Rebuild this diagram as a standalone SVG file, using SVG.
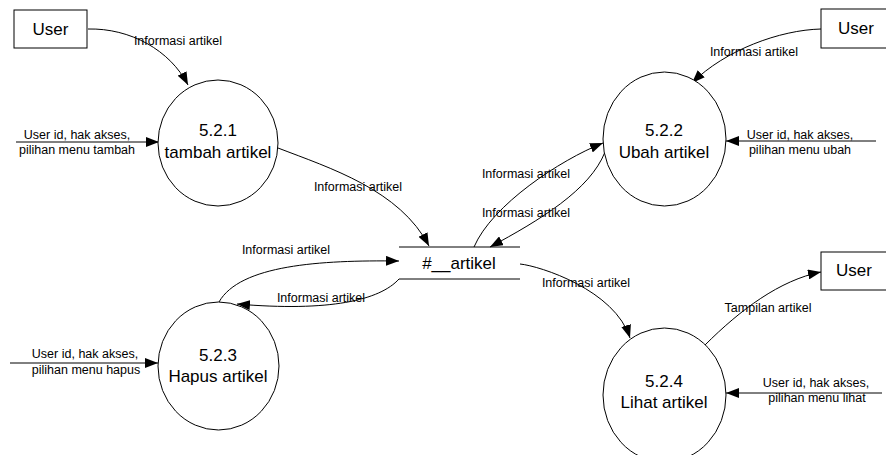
<svg xmlns="http://www.w3.org/2000/svg" width="886" height="455" viewBox="0 0 886 455">
<defs>
<style>
.shape{fill:#fff;stroke:#000;stroke-width:1}
.line{fill:none;stroke:#000;stroke-width:1}
.flow{fill:none;stroke:#000;stroke-width:1;marker-end:url(#arr)}
.node{font-family:"Liberation Sans",Arial,sans-serif;font-size:17px;fill:#000;text-anchor:middle}
.lbl{font-family:"Liberation Sans",Arial,sans-serif;font-size:12.5px;fill:#000;text-anchor:middle}
</style>
<marker id="arr" markerUnits="userSpaceOnUse" markerWidth="14" markerHeight="10" refX="13" refY="5" orient="auto">
<path d="M0,0 L13,5 L0,10 z" fill="#000"/>
</marker>
</defs>
<rect width="886" height="455" fill="#fff"/>

<g id="connectors">
<path class="flow" d="M88,29 C130,28 170,50 188,85"/>
<path class="flow" d="M16,142 L159,142"/>
<path class="flow" d="M821,29 C780,30 725,50 692,83"/>
<path class="flow" d="M876,141 L726,141"/>
<path class="flow" d="M278,148 C330,168 400,190 429,246"/>
<path class="flow" d="M474,247 C492,205 560,160 603,143"/>
<path class="flow" d="M605,152 C590,190 540,220 490,247"/>
<path class="flow" d="M219,302 C240,265 320,260 399,261"/>
<path class="flow" d="M399,279 C380,300 330,312 237,304"/>
<path class="flow" d="M520,264 C540,266 615,290 630,338"/>
<path class="flow" d="M10,363 L158,363"/>
<path class="flow" d="M705,345 C740,310 780,280 821,272"/>
<path class="flow" d="M882,393 L726,393"/>
</g>

<g id="labels">
<text class="lbl" x="178" y="45">Informasi artikel</text>
<text class="lbl" x="77" y="139">User id, hak akses,</text>
<text class="lbl" x="77" y="154">pilihan menu tambah</text>
<text class="lbl" x="754" y="56">Informasi artikel</text>
<text class="lbl" x="800" y="139">User id, hak akses,</text>
<text class="lbl" x="800" y="154">pilihan menu ubah</text>
<text class="lbl" x="358" y="191">Informasi artikel</text>
<text class="lbl" x="526" y="178">Informasi artikel</text>
<text class="lbl" x="526" y="217">Informasi artikel</text>
<text class="lbl" x="286" y="254">Informasi artikel</text>
<text class="lbl" x="321" y="302">Informasi artikel</text>
<text class="lbl" x="586" y="287">Informasi artikel</text>
<text class="lbl" x="85" y="358">User id, hak akses,</text>
<text class="lbl" x="86" y="374">pilihan menu hapus</text>
<text class="lbl" x="768" y="312">Tampilan artikel</text>
<text class="lbl" x="816" y="387">User id, hak akses,</text>
<text class="lbl" x="817" y="402">pilihan menu lihat</text>
</g>

<g id="user1">
<rect class="shape" x="14" y="10" width="73" height="38"/>
<text class="node" x="50.5" y="35">User</text>
</g>
<g id="user2">
<rect class="shape" x="821" y="9" width="73" height="39"/>
<text class="node" x="856" y="34">User</text>
</g>
<g id="user3">
<rect class="shape" x="821" y="252" width="73" height="38"/>
<text class="node" x="854" y="276">User</text>
</g>

<g id="p521">
<ellipse class="shape" cx="218" cy="143" rx="60" ry="63"/>
<text class="node" x="218" y="136">5.2.1</text>
<text class="node" x="218" y="158">tambah artikel</text>
</g>
<g id="p522">
<ellipse class="shape" cx="664.5" cy="139" rx="61.5" ry="67"/>
<text class="node" x="664" y="136">5.2.2</text>
<text class="node" x="664" y="158">Ubah artikel</text>
</g>
<g id="p523">
<ellipse class="shape" cx="218.5" cy="366" rx="60.5" ry="64"/>
<text class="node" x="218" y="361">5.2.3</text>
<text class="node" x="218" y="382">Hapus artikel</text>
</g>
<g id="p524">
<ellipse class="shape" cx="664.5" cy="395" rx="61.5" ry="67"/>
<text class="node" x="664" y="387">5.2.4</text>
<text class="node" x="664" y="408">Lihat artikel</text>
</g>

<g id="store">
<line class="line" x1="399" y1="247" x2="520" y2="247"/>
<line class="line" x1="399" y1="279" x2="520" y2="279"/>
<text class="node" x="459" y="269">#__artikel</text>
</g>
</svg>
